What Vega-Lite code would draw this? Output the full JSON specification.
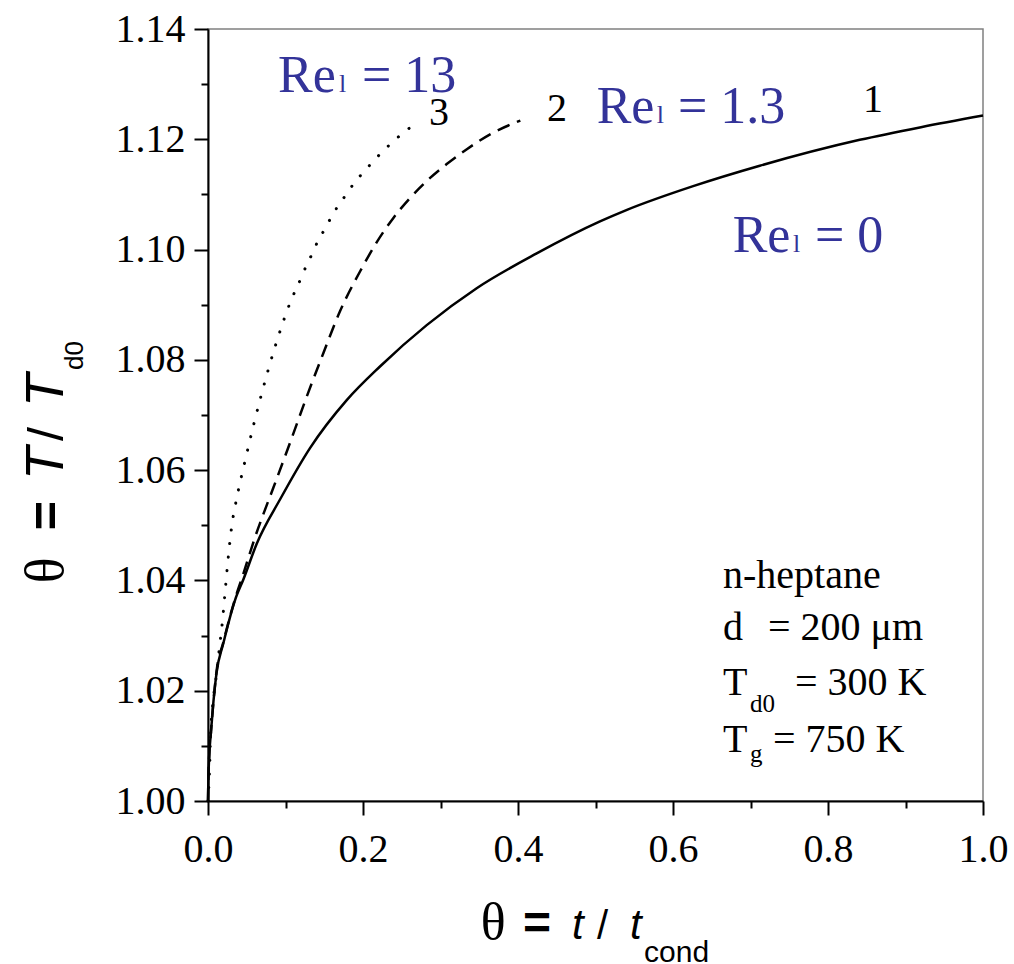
{
  "$schema": "https://vega.github.io/schema/vega-lite/v6.json",
  "width": 775,
  "height": 772,
  "autosize": {"type": "none"},
  "padding": {"left": 208, "top": 29, "right": 31, "bottom": 163},
  "background": "white",
  "config": {
    "view": {"stroke": "#808080", "strokeWidth": 1.5},
    "axis": {"grid": false, "title": null, "labelOverlap": false, "labelFlush": false}
  },
  "resolve": {"axis": {"x": "independent", "y": "independent"}},
  "datasets": {
    "curves": [
      {"c": 1, "t": 0.0, "theta": 1.0},
      {"c": 1, "t": 0.0005, "theta": 1.004},
      {"c": 1, "t": 0.0015, "theta": 1.008},
      {"c": 1, "t": 0.0035, "theta": 1.012},
      {"c": 1, "t": 0.007, "theta": 1.018},
      {"c": 1, "t": 0.011, "theta": 1.0232},
      {"c": 1, "t": 0.0198, "theta": 1.0286},
      {"c": 1, "t": 0.0348, "theta": 1.0364},
      {"c": 1, "t": 0.046, "theta": 1.0403},
      {"c": 1, "t": 0.063, "theta": 1.0467},
      {"c": 1, "t": 0.0938, "theta": 1.0549},
      {"c": 1, "t": 0.1316, "theta": 1.064},
      {"c": 1, "t": 0.179, "theta": 1.0727},
      {"c": 1, "t": 0.2219, "theta": 1.0788},
      {"c": 1, "t": 0.2822, "theta": 1.0863},
      {"c": 1, "t": 0.3467, "theta": 1.093},
      {"c": 1, "t": 0.4241, "theta": 1.0993},
      {"c": 1, "t": 0.5058, "theta": 1.1051},
      {"c": 1, "t": 0.5406, "theta": 1.1072},
      {"c": 1, "t": 0.626, "theta": 1.1115},
      {"c": 1, "t": 0.712, "theta": 1.1152},
      {"c": 1, "t": 0.841, "theta": 1.1199},
      {"c": 1, "t": 0.92, "theta": 1.1222},
      {"c": 1, "t": 1.0, "theta": 1.1243},
      {"c": 2, "t": 0.0, "theta": 1.0},
      {"c": 2, "t": 0.0005, "theta": 1.004},
      {"c": 2, "t": 0.0015, "theta": 1.008},
      {"c": 2, "t": 0.0035, "theta": 1.012},
      {"c": 2, "t": 0.007, "theta": 1.018},
      {"c": 2, "t": 0.011, "theta": 1.0235},
      {"c": 2, "t": 0.0198, "theta": 1.0288},
      {"c": 2, "t": 0.0348, "theta": 1.0366},
      {"c": 2, "t": 0.0456, "theta": 1.0412},
      {"c": 2, "t": 0.0606, "theta": 1.0478},
      {"c": 2, "t": 0.0735, "theta": 1.0528},
      {"c": 2, "t": 0.0843, "theta": 1.0568},
      {"c": 2, "t": 0.108, "theta": 1.0658},
      {"c": 2, "t": 0.1273, "theta": 1.0733},
      {"c": 2, "t": 0.1488, "theta": 1.0812},
      {"c": 2, "t": 0.1703, "theta": 1.0888},
      {"c": 2, "t": 0.198, "theta": 1.0965},
      {"c": 2, "t": 0.218, "theta": 1.1014},
      {"c": 2, "t": 0.239, "theta": 1.1057},
      {"c": 2, "t": 0.261, "theta": 1.1094},
      {"c": 2, "t": 0.282, "theta": 1.1124},
      {"c": 2, "t": 0.308, "theta": 1.1155},
      {"c": 2, "t": 0.334, "theta": 1.1182},
      {"c": 2, "t": 0.364, "theta": 1.1209},
      {"c": 2, "t": 0.403, "theta": 1.1234},
      {"c": 3, "t": 0.0, "theta": 1.0},
      {"c": 3, "t": 0.0017, "theta": 1.0045},
      {"c": 3, "t": 0.0035, "theta": 1.0124},
      {"c": 3, "t": 0.0068, "theta": 1.0184},
      {"c": 3, "t": 0.0112, "theta": 1.0232},
      {"c": 3, "t": 0.0146, "theta": 1.0276},
      {"c": 3, "t": 0.0185, "theta": 1.0324},
      {"c": 3, "t": 0.0228, "theta": 1.0391},
      {"c": 3, "t": 0.026, "theta": 1.044},
      {"c": 3, "t": 0.0318, "theta": 1.051},
      {"c": 3, "t": 0.0348, "theta": 1.0533},
      {"c": 3, "t": 0.05, "theta": 1.063},
      {"c": 3, "t": 0.0693, "theta": 1.0739},
      {"c": 3, "t": 0.0886, "theta": 1.0833},
      {"c": 3, "t": 0.1058, "theta": 1.0903},
      {"c": 3, "t": 0.12, "theta": 1.0948},
      {"c": 3, "t": 0.1273, "theta": 1.0972},
      {"c": 3, "t": 0.135, "theta": 1.0994},
      {"c": 3, "t": 0.1423, "theta": 1.1017},
      {"c": 3, "t": 0.152, "theta": 1.104},
      {"c": 3, "t": 0.1609, "theta": 1.1064},
      {"c": 3, "t": 0.172, "theta": 1.1087},
      {"c": 3, "t": 0.183, "theta": 1.111},
      {"c": 3, "t": 0.196, "theta": 1.1133},
      {"c": 3, "t": 0.21, "theta": 1.1155},
      {"c": 3, "t": 0.224, "theta": 1.1176},
      {"c": 3, "t": 0.239, "theta": 1.1196},
      {"c": 3, "t": 0.254, "theta": 1.1214},
      {"c": 3, "t": 0.27, "theta": 1.123}
    ],
    "labels": [
      {"k": "re", "x": 0.0903, "y": 1.1286, "s": "Re"},
      {"k": "resub", "x": 0.169, "y": 1.1286, "s": "l"},
      {"k": "re", "x": 0.1987, "y": 1.1286, "s": "= 13"},
      {"k": "re", "x": 0.5015, "y": 1.1229, "s": "Re"},
      {"k": "resub", "x": 0.579, "y": 1.1229, "s": "l"},
      {"k": "re", "x": 0.6065, "y": 1.1229, "s": "= 1.3"},
      {"k": "re", "x": 0.677, "y": 1.0996, "s": "Re"},
      {"k": "resub", "x": 0.7548, "y": 1.0996, "s": "l"},
      {"k": "re", "x": 0.7832, "y": 1.0996, "s": "= 0"},
      {"k": "num", "x": 0.845, "y": 1.12495, "s": "1"},
      {"k": "num", "x": 0.4374, "y": 1.1233, "s": "2"},
      {"k": "num", "x": 0.2852, "y": 1.1226, "s": "3"},
      {"k": "info", "x": 0.6645, "y": 1.0386, "s": "n-heptane"},
      {"k": "info", "x": 0.6645, "y": 1.0292, "s": "d"},
      {"k": "info", "x": 0.7226, "y": 1.0292, "s": "= 200 μm"},
      {"k": "info", "x": 0.6645, "y": 1.0192, "s": "T"},
      {"k": "info", "x": 0.7574, "y": 1.0192, "s": "= 300 K"},
      {"k": "info", "x": 0.6645, "y": 1.00888, "s": "T"},
      {"k": "info", "x": 0.729, "y": 1.00888, "s": "= 750 K"},
      {"k": "infosub", "x": 0.6994, "y": 1.01614, "s": "d0"},
      {"k": "infosub", "x": 0.6994, "y": 1.00707, "s": "g"},
      {"k": "xtheta", "x": 0.3519, "y": 0.975, "s": "θ"},
      {"k": "xeq", "x": 0.4065, "y": 0.975, "s": "="},
      {"k": "xit", "x": 0.4697, "y": 0.975, "s": "t"},
      {"k": "xsl", "x": 0.5019, "y": 0.975, "s": "/"},
      {"k": "xit", "x": 0.5445, "y": 0.975, "s": "t"},
      {"k": "xsub", "x": 0.5626, "y": 0.9708, "s": "cond"},
      {"k": "ytheta", "x": -0.1871, "y": 1.0395, "s": "θ"},
      {"k": "yeq", "x": -0.1871, "y": 1.0491, "s": "="},
      {"k": "yit", "x": -0.1871, "y": 1.0582, "s": "T"},
      {"k": "ysl", "x": -0.1871, "y": 1.0653, "s": "/"},
      {"k": "yit", "x": -0.1871, "y": 1.07145, "s": "T"},
      {"k": "ysub", "x": -0.1613, "y": 1.07816, "s": "d0"}
    ]
  },
  "layer": [
    {
      "data": {"name": "curves"},
      "transform": [{"filter": "datum.c == 1"}],
      "mark": {"type": "line", "color": "black", "strokeWidth": 2.5, "interpolate": "monotone"},
      "encoding": {
        "x": {"field": "t", "type": "quantitative",
          "scale": {"domain": [0, 1], "nice": false, "zero": false},
          "axis": {"orient": "bottom", "values": [0, 0.2, 0.4, 0.6, 0.8, 1.0], "format": ".1f",
            "domainColor": "black", "domainWidth": 2, "tickColor": "black", "tickWidth": 2, "tickSize": 14,
            "labelFont": "Liberation Serif", "labelFontSize": 40, "labelColor": "black", "labelPadding": 14}},
        "y": {"field": "theta", "type": "quantitative",
          "scale": {"domain": [1.0, 1.14], "nice": false, "zero": false},
          "axis": {"orient": "left", "values": [1.0, 1.02, 1.04, 1.06, 1.08, 1.1, 1.12, 1.14], "format": ".2f",
            "domainColor": "black", "domainWidth": 2, "tickColor": "black", "tickWidth": 2, "tickSize": 14,
            "labelFont": "Liberation Serif", "labelFontSize": 40, "labelColor": "black", "labelPadding": 9}}
      }
    },
    {
      "data": {"name": "curves"},
      "transform": [{"filter": "datum.c == 2"}],
      "mark": {"type": "line", "color": "black", "strokeWidth": 2.5, "strokeDash": [13, 8], "interpolate": "monotone"},
      "encoding": {
        "x": {"field": "t", "type": "quantitative",
          "scale": {"domain": [0, 1], "nice": false, "zero": false},
          "axis": {"orient": "bottom", "values": [0.1, 0.3, 0.5, 0.7, 0.9], "labels": false, "domain": false,
            "tickColor": "black", "tickWidth": 2, "tickSize": 7}},
        "y": {"field": "theta", "type": "quantitative",
          "scale": {"domain": [1.0, 1.14], "nice": false, "zero": false},
          "axis": {"orient": "left", "values": [1.01, 1.03, 1.05, 1.07, 1.09, 1.11, 1.13], "labels": false, "domain": false,
            "tickColor": "black", "tickWidth": 2, "tickSize": 7}}
      }
    },
    {
      "data": {"name": "curves"},
      "transform": [{"filter": "datum.c == 3"}],
      "mark": {"type": "line", "color": "black", "strokeWidth": 3, "strokeDash": [0.1, 13.5], "strokeCap": "round", "interpolate": "monotone"},
      "encoding": {
        "x": {"field": "t", "type": "quantitative", "scale": {"domain": [0, 1], "nice": false, "zero": false}, "axis": null},
        "y": {"field": "theta", "type": "quantitative", "scale": {"domain": [1.0, 1.14], "nice": false, "zero": false}, "axis": null}
      }
    },
    {
      "data": {"name": "labels"},
      "transform": [{"filter": "datum.k == 're'"}],
      "mark": {"type": "text", "align": "left", "baseline": "alphabetic", "font": "Liberation Serif", "fontSize": 52, "color": "#333399"},
      "encoding": {
        "x": {"field": "x", "type": "quantitative", "scale": {"domain": [0, 1], "nice": false, "zero": false}, "axis": null},
        "y": {"field": "y", "type": "quantitative", "scale": {"domain": [1.0, 1.14], "nice": false, "zero": false}, "axis": null},
        "text": {"field": "s"}
      }
    },
    {
      "data": {"name": "labels"},
      "transform": [{"filter": "datum.k == 'resub'"}],
      "mark": {"type": "text", "align": "left", "baseline": "alphabetic", "font": "Liberation Serif", "fontSize": 26, "color": "#333399"},
      "encoding": {
        "x": {"field": "x", "type": "quantitative", "scale": {"domain": [0, 1], "nice": false, "zero": false}, "axis": null},
        "y": {"field": "y", "type": "quantitative", "scale": {"domain": [1.0, 1.14], "nice": false, "zero": false}, "axis": null},
        "text": {"field": "s"}
      }
    },
    {
      "data": {"name": "labels"},
      "transform": [{"filter": "datum.k == 'num' || datum.k == 'info'"}],
      "mark": {"type": "text", "align": "left", "baseline": "alphabetic", "font": "Liberation Serif", "fontSize": 40, "color": "black"},
      "encoding": {
        "x": {"field": "x", "type": "quantitative", "scale": {"domain": [0, 1], "nice": false, "zero": false}, "axis": null},
        "y": {"field": "y", "type": "quantitative", "scale": {"domain": [1.0, 1.14], "nice": false, "zero": false}, "axis": null},
        "text": {"field": "s"}
      }
    },
    {
      "data": {"name": "labels"},
      "transform": [{"filter": "datum.k == 'infosub'"}],
      "mark": {"type": "text", "align": "left", "baseline": "alphabetic", "font": "Liberation Serif", "fontSize": 25, "color": "black"},
      "encoding": {
        "x": {"field": "x", "type": "quantitative", "scale": {"domain": [0, 1], "nice": false, "zero": false}, "axis": null},
        "y": {"field": "y", "type": "quantitative", "scale": {"domain": [1.0, 1.14], "nice": false, "zero": false}, "axis": null},
        "text": {"field": "s"}
      }
    },
    {
      "data": {"name": "labels"},
      "transform": [{"filter": "datum.k == 'xtheta'"}],
      "mark": {"type": "text", "align": "left", "baseline": "alphabetic", "font": "Liberation Serif", "fontSize": 52, "color": "black"},
      "encoding": {
        "x": {"field": "x", "type": "quantitative", "scale": {"domain": [0, 1], "nice": false, "zero": false}, "axis": null},
        "y": {"field": "y", "type": "quantitative", "scale": {"domain": [1.0, 1.14], "nice": false, "zero": false}, "axis": null},
        "text": {"field": "s"}
      }
    },
    {
      "data": {"name": "labels"},
      "transform": [{"filter": "datum.k == 'xeq'"}],
      "mark": {"type": "text", "align": "left", "baseline": "alphabetic", "font": "Liberation Sans", "fontWeight": "bold", "fontSize": 48, "color": "black"},
      "encoding": {
        "x": {"field": "x", "type": "quantitative", "scale": {"domain": [0, 1], "nice": false, "zero": false}, "axis": null},
        "y": {"field": "y", "type": "quantitative", "scale": {"domain": [1.0, 1.14], "nice": false, "zero": false}, "axis": null},
        "text": {"field": "s"}
      }
    },
    {
      "data": {"name": "labels"},
      "transform": [{"filter": "datum.k == 'xsl'"}],
      "mark": {"type": "text", "align": "left", "baseline": "alphabetic", "font": "Liberation Sans", "fontSize": 40, "color": "black"},
      "encoding": {
        "x": {"field": "x", "type": "quantitative", "scale": {"domain": [0, 1], "nice": false, "zero": false}, "axis": null},
        "y": {"field": "y", "type": "quantitative", "scale": {"domain": [1.0, 1.14], "nice": false, "zero": false}, "axis": null},
        "text": {"field": "s"}
      }
    },
    {
      "data": {"name": "labels"},
      "transform": [{"filter": "datum.k == 'xit'"}],
      "mark": {"type": "text", "align": "left", "baseline": "alphabetic", "font": "Liberation Sans", "fontStyle": "italic", "fontSize": 42, "color": "black"},
      "encoding": {
        "x": {"field": "x", "type": "quantitative", "scale": {"domain": [0, 1], "nice": false, "zero": false}, "axis": null},
        "y": {"field": "y", "type": "quantitative", "scale": {"domain": [1.0, 1.14], "nice": false, "zero": false}, "axis": null},
        "text": {"field": "s"}
      }
    },
    {
      "data": {"name": "labels"},
      "transform": [{"filter": "datum.k == 'xsub'"}],
      "mark": {"type": "text", "align": "left", "baseline": "alphabetic", "font": "Liberation Sans", "fontSize": 30, "color": "black"},
      "encoding": {
        "x": {"field": "x", "type": "quantitative", "scale": {"domain": [0, 1], "nice": false, "zero": false}, "axis": null},
        "y": {"field": "y", "type": "quantitative", "scale": {"domain": [1.0, 1.14], "nice": false, "zero": false}, "axis": null},
        "text": {"field": "s"}
      }
    },
    {
      "data": {"name": "labels"},
      "transform": [{"filter": "datum.k == 'ytheta'"}],
      "mark": {"type": "text", "align": "left", "baseline": "alphabetic", "angle": 270, "font": "Liberation Serif", "fontSize": 54, "color": "black"},
      "encoding": {
        "x": {"field": "x", "type": "quantitative", "scale": {"domain": [0, 1], "nice": false, "zero": false}, "axis": null},
        "y": {"field": "y", "type": "quantitative", "scale": {"domain": [1.0, 1.14], "nice": false, "zero": false}, "axis": null},
        "text": {"field": "s"}
      }
    },
    {
      "data": {"name": "labels"},
      "transform": [{"filter": "datum.k == 'yeq'"}],
      "mark": {"type": "text", "align": "left", "baseline": "alphabetic", "angle": 270, "font": "Liberation Sans", "fontWeight": "bold", "fontSize": 50, "color": "black"},
      "encoding": {
        "x": {"field": "x", "type": "quantitative", "scale": {"domain": [0, 1], "nice": false, "zero": false}, "axis": null},
        "y": {"field": "y", "type": "quantitative", "scale": {"domain": [1.0, 1.14], "nice": false, "zero": false}, "axis": null},
        "text": {"field": "s"}
      }
    },
    {
      "data": {"name": "labels"},
      "transform": [{"filter": "datum.k == 'ysl'"}],
      "mark": {"type": "text", "align": "left", "baseline": "alphabetic", "angle": 270, "font": "Liberation Sans", "fontSize": 50, "color": "black"},
      "encoding": {
        "x": {"field": "x", "type": "quantitative", "scale": {"domain": [0, 1], "nice": false, "zero": false}, "axis": null},
        "y": {"field": "y", "type": "quantitative", "scale": {"domain": [1.0, 1.14], "nice": false, "zero": false}, "axis": null},
        "text": {"field": "s"}
      }
    },
    {
      "data": {"name": "labels"},
      "transform": [{"filter": "datum.k == 'yit'"}],
      "mark": {"type": "text", "align": "left", "baseline": "alphabetic", "angle": 270, "font": "Liberation Sans", "fontStyle": "italic", "fontSize": 54, "color": "black"},
      "encoding": {
        "x": {"field": "x", "type": "quantitative", "scale": {"domain": [0, 1], "nice": false, "zero": false}, "axis": null},
        "y": {"field": "y", "type": "quantitative", "scale": {"domain": [1.0, 1.14], "nice": false, "zero": false}, "axis": null},
        "text": {"field": "s"}
      }
    },
    {
      "data": {"name": "labels"},
      "transform": [{"filter": "datum.k == 'ysub'"}],
      "mark": {"type": "text", "align": "left", "baseline": "alphabetic", "angle": 270, "font": "Liberation Sans", "fontSize": 26, "color": "black"},
      "encoding": {
        "x": {"field": "x", "type": "quantitative", "scale": {"domain": [0, 1], "nice": false, "zero": false}, "axis": null},
        "y": {"field": "y", "type": "quantitative", "scale": {"domain": [1.0, 1.14], "nice": false, "zero": false}, "axis": null},
        "text": {"field": "s"}
      }
    }
  ]
}
